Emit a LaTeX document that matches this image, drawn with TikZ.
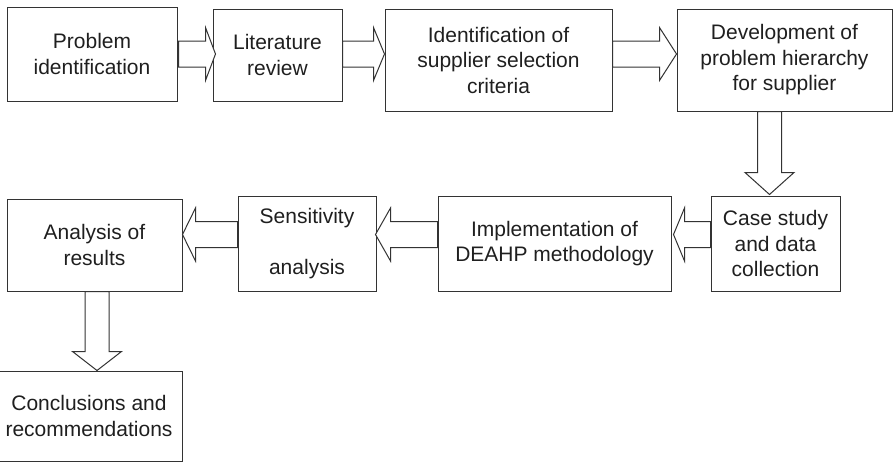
\documentclass[tikz,border=0pt]{standalone}
\usepackage{fontspec}
\setmainfont{Liberation Sans}
\usetikzlibrary{calc}
\tikzset{
  box/.style={draw=black!80, line width=1pt, inner sep=0pt, align=center,
    text=black!88, font=\fontsize{21}{25.5}\selectfont},
  fatarrow/.style={draw=black!80, line width=1pt, fill=white, line join=miter}
}
% horizontal fat arrow: #1 start, #2 tip, #3 signed head length
\newcommand\harr[3]{%
  \draw[fatarrow] ($(#1)+(0,-13)$) -- ($(#2)+({-(#3)},-13)$) -- ($(#2)+({-(#3)},-26.5)$) -- (#2)
    -- ($(#2)+({-(#3)},26.5)$) -- ($(#2)+({-(#3)},13)$) -- ($(#1)+(0,13)$) -- cycle;}
% vertical (downward) fat arrow: #1 start, #2 tip, #3 head length
\newcommand\varr[3]{%
  \draw[fatarrow] ($(#1)+(-12,0)$) -- ($(#2)+(-12,{-(#3)})$) -- ($(#2)+(-24.5,{-(#3)})$) -- (#2)
    -- ($(#2)+(24.5,{-(#3)})$) -- ($(#2)+(12,{-(#3)})$) -- ($(#1)+(12,0)$) -- cycle;}
\begin{document}
\begin{tikzpicture}[x=1pt,y=-1pt]
\useasboundingbox (0,0) rectangle (893,463);
\clip (0,0) rectangle (893,463);

\node[box, minimum width=170pt, minimum height=94pt] (b1) at (92,54) {Problem\\identification};
\node[box, minimum width=129pt, minimum height=92pt] (b2) at (277.5,55) {Literature\\review};
\node[box, minimum width=227pt, minimum height=102pt] (b3) at (498.5,60) {Identification of\\supplier selection\\criteria};
\node[box, minimum width=215pt, minimum height=102pt] (b4) at (784.5,60) {Development of\\problem hierarchy\\for supplier};
\node[box, minimum width=129pt, minimum height=95pt] (b5) at (775.5,243.5) {Case study\\and data\\collection};
\node[box, minimum width=233pt, minimum height=95pt] (b6) at (554.5,243.5) {Implementation of\\DEAHP methodology};
\node[box, minimum width=138pt, minimum height=95pt] (b7) at (307,243.5) {Sensitivity\\\mbox{}\\analysis};
\node[box, minimum width=175pt, minimum height=92pt] (b8) at (94.5,245) {Analysis of\\results};
\node[box, minimum width=186pt, minimum height=90pt] (b9) at (89,416) {Conclusions and\\recommendations};

\coordinate (rowA) at (0,54);
\coordinate (rowB) at (0,234.5);
\coordinate (colA) at (769.5,0);
\coordinate (colB) at (97,0);

% top row arrows
\coordinate (s1) at ($(b1.east|-rowA)+(1,0)$);
\coordinate (t1) at ($(b2.west|-rowA)+(3,0)$);
\harr{s1}{t1}{10}
\coordinate (s2) at (b2.east|-rowA);
\coordinate (t2) at (b3.west|-rowA);
\harr{s2}{t2}{11}
\coordinate (s3) at (b3.east|-rowA);
\coordinate (t3) at (b4.west|-rowA);
\harr{s3}{t3}{17}

% down arrow b4 -> b5
\coordinate (s4) at (b4.south-|colA);
\coordinate (t4) at ($(b5.north-|colA)+(0,-1)$);
\varr{s4}{t4}{22}

% bottom row arrows (leftward)
\coordinate (s5) at (b5.west|-rowB);
\coordinate (t5) at ($(b6.east|-rowB)+(2,0)$);
\harr{s5}{t5}{-11}
\coordinate (s6) at (b6.west|-rowB);
\coordinate (t6) at ($(b7.east|-rowB)+(-1,0)$);
\harr{s6}{t6}{-15}
\coordinate (s7) at (b7.west|-rowB);
\coordinate (t7) at (b8.east|-rowB);
\harr{s7}{t7}{-13}

% down arrow b8 -> b9
\coordinate (s8) at (b8.south-|colB);
\coordinate (t8) at (b9.north-|colB);
\varr{s8}{t8}{19}
\end{tikzpicture}
\end{document}
